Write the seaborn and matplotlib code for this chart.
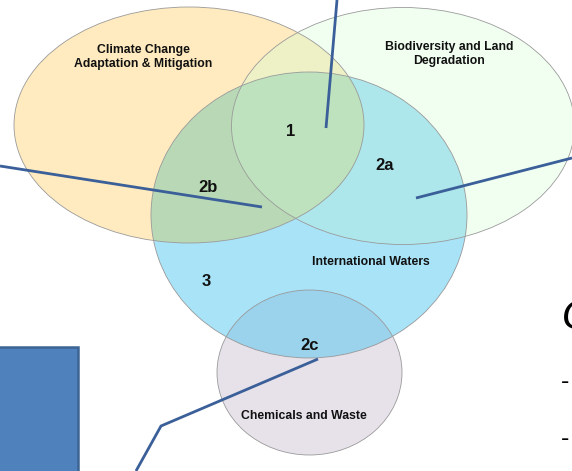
import numpy as np
import matplotlib
matplotlib.use("Agg")
import matplotlib.pyplot as plt
from matplotlib.patches import Ellipse, Rectangle
import seaborn as sns

# ---- diagram content ----
set_names = ["Climate Change\nAdaptation & Mitigation", "Biodiversity and Land\nDegradation",
             "International Waters", "Chemicals and Waste"]
region_labels = ["1", "2a", "2b", "3", "2c"]

# ellipse geometry (pixel coords, y down): centre x, centre y, width, height
set_cx = [189, 403, 309, 309.5]
set_cy = [125, 126, 215, 372.5]
set_w = [350, 343, 316, 185]
set_h = [236, 237, 286, 165]

# region colours
col_climate = "#FFEBBF"
col_bio = "#F1FFF1"
col_climate_bio = "#EEF0C6"
col_water = "#A9E3F8"
col_climate_water = "#B9D9B6"
col_bio_water = "#ADE7EB"
col_all = "#BEE2BD"
col_chem = "#E7E2EA"
col_chem_water = "#9BD2EC"

line_col = "#3A5F99"

W, H = 572, 471

sns.set_theme(style="white")
plt.rcParams["font.family"] = ["Liberation Sans", "DejaVu Sans"]

fig = plt.figure(figsize=(W / 100, H / 100), dpi=100)
ax = fig.add_axes([0, 0, 1, 1])
ax.set_xlim(0, W)
ax.set_ylim(H, 0)
ax.axis("off")

# raster of the region colours
yy, xx = np.mgrid[0:H, 0:W] + 0.5


def inside(i):
    return ((xx - set_cx[i]) / (set_w[i] / 2)) ** 2 + ((yy - set_cy[i]) / (set_h[i] / 2)) ** 2 <= 1


cl, bi, wa, ch = (inside(i) for i in range(4))
img = np.ones((H, W, 3))
rgb = matplotlib.colors.to_rgb
img[cl] = rgb(col_climate)
img[bi] = rgb(col_bio)
img[cl & bi] = rgb(col_climate_bio)
img[wa] = rgb(col_water)
img[wa & cl] = rgb(col_climate_water)
img[wa & bi] = rgb(col_bio_water)
img[wa & cl & bi] = rgb(col_all)
img[ch] = rgb(col_chem)
img[ch & wa] = rgb(col_chem_water)
ax.imshow(img, extent=(0, W, H, 0), interpolation="bilinear", zorder=0)

for i in range(4):
    ax.add_patch(Ellipse((set_cx[i], set_cy[i]), set_w[i], set_h[i], fill=False,
                         ec="#9A9A9A", lw=0.6, zorder=1))

# blue box at bottom left
ax.add_patch(Rectangle((-5, 347), 83, 140, fc="#4F81BD", ec="#3D6594", lw=1.8, zorder=2))

# leader lines
ax.plot([337, 326], [0, 128], color=line_col, lw=2, zorder=3, solid_capstyle="butt")
ax.plot([0, 262], [166, 207], color=line_col, lw=2, zorder=3, solid_capstyle="butt")
ax.plot([572, 416], [158, 198], color=line_col, lw=2, zorder=3, solid_capstyle="butt")
ax.plot([318, 161, 136], [359, 426, 471], color=line_col, lw=2, zorder=3, solid_capstyle="butt")

# set names
tk = dict(ha="center", va="center", fontweight="bold", color="#111111", zorder=4, linespacing=1.3)
ax.text(143, 57, set_names[0], fontsize=8.8, **tk)
ax.text(449, 54, set_names[1], fontsize=8.8, **tk)
ax.text(371, 262, set_names[2], fontsize=8.8, **tk)
ax.text(304, 416, set_names[3], fontsize=8.8, **tk)

# region numbers
ax.text(291, 131, region_labels[0], fontsize=12, **tk)
ax.text(385, 166, region_labels[1], fontsize=12, **tk)
ax.text(208, 188, region_labels[2], fontsize=12, **tk)
ax.text(206, 282, region_labels[3], fontsize=12, **tk)
ax.text(310, 345, region_labels[4], fontsize=12, **tk)

# cut-off slide text on the right
ax.text(562, 318, "G", fontsize=30, ha="left", va="center", style="italic", color="black", zorder=4)
ax.text(561, 382, "-", fontsize=18, ha="left", va="center", color="black", zorder=4)
ax.text(561, 439, "-", fontsize=18, ha="left", va="center", color="black", zorder=4)

fig.savefig("out.png", dpi=100)
